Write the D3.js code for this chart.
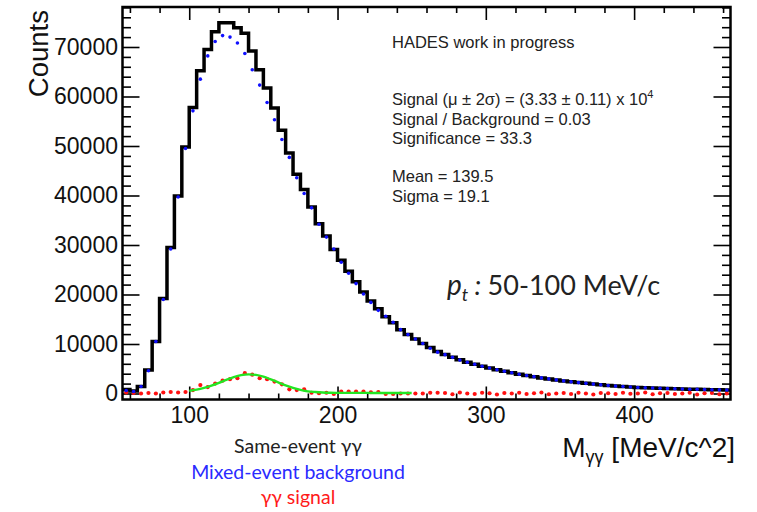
<!DOCTYPE html>
<html>
<head>
<meta charset="utf-8">
<script src="https://cdn.jsdelivr.net/npm/d3@7"></script>
<style>
  body { margin: 0; background: #fff; }
  svg { display: block; }
</style>
</head>
<body>
<div id="chart"></div>
<script>
// bins: 5 MeV wide, low edges 55 .. 460
const binLow = d3.range(55, 465, 5);
const binWidth = 5;

// same-event gamma-gamma (black histogram)
const sameEvent = [
  800, 500, 1400, 4750, 10500, 19200, 29500, 39900, 49800, 57800,
  65200, 69500, 73100, 74900, 74900, 73900, 72800, 69200, 65400, 61700,
  57700, 53200, 48600, 44300, 41200, 37700, 34300, 31800, 29100, 26900,
  24700, 22600, 20500, 18700, 17100, 15500, 14300, 12900, 11900, 11000,
  10100, 9300, 8500, 7900, 7300, 6800, 6300, 5900, 5500, 5150,
  4800, 4500, 4200, 3900, 3650, 3400, 3150, 2950, 2750, 2550,
  2350, 2200, 2050, 1900, 1750, 1620, 1500, 1400, 1300, 1200,
  1150, 1100, 1050, 1000, 950, 900, 870, 840, 800, 770,
  740, 700
];

// mixed-event background (blue dots at bin centres)
const mixedBg = [
  600, 400, 1400, 4600, 10500, 19000, 29200, 39700, 49500, 57100,
  63500, 68200, 71100, 72300, 72000, 70800, 68700, 65400, 62300, 58800,
  55300, 51300, 47700, 43600, 40400, 37500, 34200, 31600, 29200, 26500,
  24300, 22200, 20100, 18400, 16800, 15600, 14400, 12900, 11900, 11000,
  10100, 9150, 8350, 7850, 7300, 6750, 6300, 5900, 5500, 5150,
  4800, 4500, 4200, 3900, 3650, 3400, 3150, 2950, 2750, 2550,
  2350, 2200, 2050, 1900, 1750, 1620, 1500, 1400, 1300, 1200,
  1150, 1100, 1050, 1000, 950, 900, 870, 840, 800, 770,
  740, 700
];

// gamma-gamma signal (red dots)
const signal = [
  200, 100, 0, 100, 0, 200, 300, 200, 300, 700,
  1700, 1300, 2000, 2600, 2900, 3100, 4100, 3800, 3100, 2900,
  2400, 1850, 850, 700, 850, 150, 50, 150, -100, 400,
  400, 400, 400, 250, 300, -100, -100, 0, 0, 0,
  0, 150, 150, 100, -150, 200, 0, -100, 150, 50,
  -200, 100, 0, 150, -100, 50, 200, -150, 0, 100,
  -100, 150, 0, -200, 100, 50, -100, 150, -50, 0,
  200, -150, 50, 100, -100, 0, 150, -200, 50, 100,
  -150, 0
];

// fit curve (green), 100..250 MeV
const fitX = d3.range(100, 255, 5);
const fitY = [
  550, 800, 1150, 1600, 2150, 2750, 3300, 3700, 3850, 3750,
  3400, 2850, 2250, 1650, 1150, 750, 450, 300, 200, 150,
  130, 120, 120, 110, 110, 100, 100, 100, 100, 100,
  100
];

const yMajor = [0, 10000, 20000, 30000, 40000, 50000, 60000, 70000];
const xMajor = [100, 200, 300, 400];

const W = 757, H = 512;
const frame = { left: 122.5, top: 7, right: 730.5, bottom: 399.5 };

const svg = d3.select("#chart").append("svg")
  .attr("width", W)
  .attr("height", H);

const x = d3.scaleLinear().domain([55, 465]).range([frame.left, frame.right]);
const y = d3.scaleLinear().domain([-1212, 78080]).range([frame.bottom, frame.top]);

const axisFont = "'Liberation Sans', Arial, sans-serif";

// ticks, all inward, on four sides
function styleAxis(g) {
  g.select(".domain").remove();
  g.selectAll(".tick line").attr("stroke", "#000").attr("stroke-width", 1.6);
  g.selectAll(".tick text").attr("fill", "#111").style("font-family", axisFont).style("font-size", "23px");
}

const xMinor = d3.range(60, 465, 20).filter(v => v % 100 !== 0);
svg.append("g")
  .attr("transform", `translate(0,${frame.bottom})`)
  .call(d3.axisBottom(x).tickValues(xMajor).tickSize(-13).tickPadding(7.5).tickFormat(d3.format("d")))
  .call(styleAxis);
svg.append("g")
  .attr("transform", `translate(0,${frame.bottom})`)
  .call(d3.axisBottom(x).tickValues(xMinor).tickSize(-6).tickFormat(""))
  .call(styleAxis);
svg.append("g")
  .attr("transform", `translate(0,${frame.top})`)
  .call(d3.axisTop(x).tickValues(xMajor).tickSize(-13).tickFormat(""))
  .call(styleAxis);
svg.append("g")
  .attr("transform", `translate(0,${frame.top})`)
  .call(d3.axisTop(x).tickValues(xMinor).tickSize(-6).tickFormat(""))
  .call(styleAxis);

const yMinor = d3.range(2000, 78001, 2000).filter(v => v % 10000 !== 0);
svg.append("g")
  .attr("transform", `translate(${frame.left},0)`)
  .call(d3.axisLeft(y).tickValues(yMajor).tickSize(-17).tickPadding(4.5).tickFormat(d3.format("d")))
  .call(styleAxis);
svg.append("g")
  .attr("transform", `translate(${frame.left},0)`)
  .call(d3.axisLeft(y).tickValues(yMinor).tickSize(-8.5).tickFormat(""))
  .call(styleAxis);
svg.append("g")
  .attr("transform", `translate(${frame.right},0)`)
  .call(d3.axisRight(y).tickValues(yMajor).tickSize(-17).tickFormat(""))
  .call(styleAxis);
svg.append("g")
  .attr("transform", `translate(${frame.right},0)`)
  .call(d3.axisRight(y).tickValues(yMinor).tickSize(-8.5).tickFormat(""))
  .call(styleAxis);

// red signal dots
svg.append("g").selectAll("circle")
  .data(signal)
  .join("circle")
  .attr("cx", (d, i) => x(binLow[i] + binWidth / 2))
  .attr("cy", d => y(d))
  .attr("r", 2.1)
  .attr("fill", "#ff1010");

// green fit
const fitLine = d3.line()
  .x((d, i) => x(fitX[i]))
  .y(d => y(d))
  .curve(d3.curveMonotoneX);
svg.append("path")
  .datum(fitY)
  .attr("d", fitLine)
  .attr("fill", "none")
  .attr("stroke", "#22e622")
  .attr("stroke-width", 2.3);

// black step histogram
const steps = [];
sameEvent.forEach((v, i) => {
  steps.push([binLow[i], v]);
  steps.push([binLow[i] + binWidth, v]);
});
svg.append("path")
  .datum(steps)
  .attr("d", d3.line().x(d => x(d[0])).y(d => y(d[1])))
  .attr("fill", "none")
  .attr("stroke", "#000")
  .attr("stroke-width", 3.5)
  .attr("stroke-linejoin", "miter");

// blue mixed-event dots
svg.append("g").selectAll("circle")
  .data(mixedBg)
  .join("circle")
  .attr("cx", (d, i) => x(binLow[i] + binWidth / 2))
  .attr("cy", d => y(d))
  .attr("r", 1.8)
  .attr("fill", "#1010ff");

// frame
svg.append("rect")
  .attr("x", frame.left)
  .attr("y", frame.top)
  .attr("width", frame.right - frame.left)
  .attr("height", frame.bottom - frame.top)
  .attr("fill", "none")
  .attr("stroke", "#000")
  .attr("stroke-width", 2.5);

// axis titles
svg.append("text")
  .attr("transform", "translate(48,10) rotate(-90)")
  .attr("text-anchor", "end")
  .style("font-family", axisFont)
  .style("font-size", "27.5px")
  .attr("fill", "#111")
  .text("Counts");

const xt = svg.append("text")
  .attr("x", 735)
  .attr("y", 457)
  .attr("text-anchor", "end")
  .style("font-family", axisFont)
  .style("font-size", "28px")
  .attr("fill", "#111");
xt.append("tspan").text("M");
xt.append("tspan").attr("dy", 6).style("font-size", "18px").text("γγ");
xt.append("tspan").attr("dy", -6).text(" [MeV/c^2]");

// stats box text
const statFont = "'Liberation Sans', Arial, sans-serif";
const stats = [
  { t: "HADES work in progress", yy: 48 },
  { t: "Signal / Background = 0.03", yy: 124.5 },
  { t: "Significance = 33.3", yy: 144 },
  { t: "Mean = 139.5", yy: 182 },
  { t: "Sigma = 19.1", yy: 201.5 }
];
svg.append("g").selectAll("text")
  .data(stats)
  .join("text")
  .attr("x", 392)
  .attr("y", d => d.yy)
  .style("font-family", statFont)
  .style("font-size", "16.5px")
  .attr("fill", "#222")
  .text(d => d.t);

const sig = svg.append("text")
  .attr("x", 392)
  .attr("y", 105)
  .style("font-family", statFont)
  .style("font-size", "16.5px")
  .attr("fill", "#222");
sig.append("tspan").text("Signal (μ ± 2σ) = (3.33 ± 0.11) x 10");
sig.append("tspan").attr("dy", -7).style("font-size", "11px").text("4");

// pt label
const pt = svg.append("text")
  .attr("x", 447)
  .attr("y", 294.5)
  .style("font-family", "Lato, 'Open Sans', sans-serif")
  .style("font-size", "27px")
  .attr("fill", "#222");
pt.append("tspan").style("font-style", "italic").style("font-size", "28px").text("p");
pt.append("tspan").attr("dy", 6).style("font-style", "italic").style("font-size", "18px").text("t");
pt.append("tspan").attr("dy", -6).style("font-style", "italic").text(" : ");
pt.append("tspan").text("50-100 MeV/c");

// legend under the plot
const legend = [
  { t: "Same-event γγ", c: "#222", yy: 453 },
  { t: "Mixed-event background", c: "#2a2aff", yy: 479 },
  { t: "γγ signal", c: "#ff1a1a", yy: 504 }
];
svg.append("g").selectAll("text")
  .data(legend)
  .join("text")
  .attr("x", 298)
  .attr("y", d => d.yy)
  .attr("text-anchor", "middle")
  .style("font-family", "Lato, 'Open Sans', sans-serif")
  .style("font-size", "19.5px")
  .attr("fill", d => d.c)
  .text(d => d.t);
</script>
</body>
</html>
